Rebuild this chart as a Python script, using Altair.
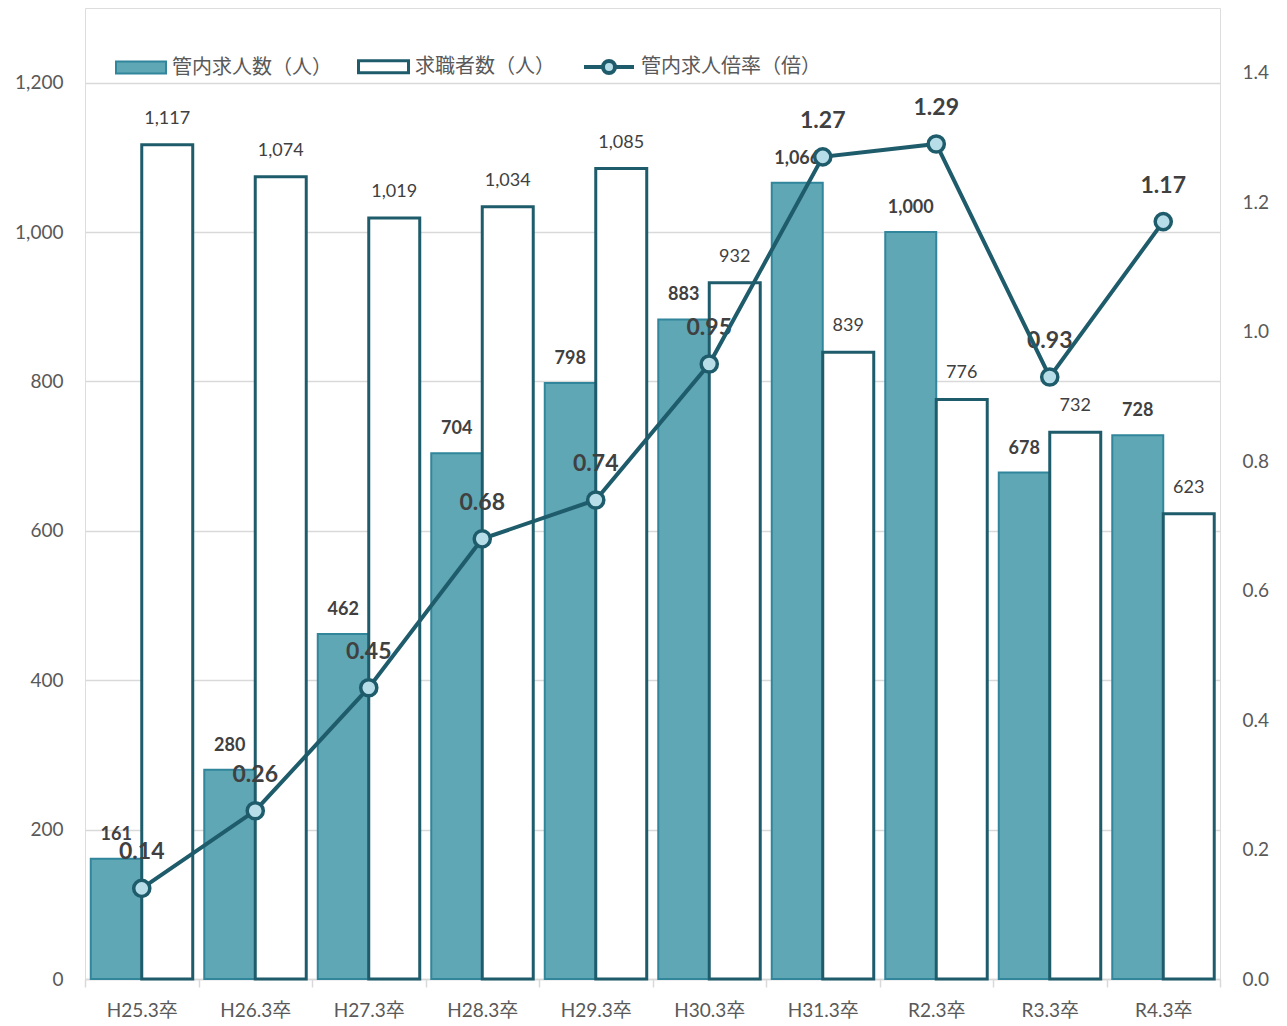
import altair as alt
import pandas as pd

categories = ["H25.3卒", "H26.3卒", "H27.3卒", "H28.3卒", "H29.3卒",
              "H30.3卒", "H31.3卒", "R2.3卒", "R3.3卒", "R4.3卒"]
job_openings = [161, 280, 462, 704, 798, 883, 1066, 1000, 678, 728]
job_seekers = [1117, 1074, 1019, 1034, 1085, 932, 839, 776, 732, 623]
ratio = [0.14, 0.26, 0.45, 0.68, 0.74, 0.95, 1.27, 1.29, 0.93, 1.17]

S1 = "管内求人数（人）"
S2 = "求職者数（人）"
S3 = "管内求人倍率（倍）"

FONT = "Lato, 'Noto Sans CJK JP', sans-serif"
TEAL_FILL = "#5fa7b5"
TEAL_STROKE = "#31869b"
DARK = "#1f5c6b"
TXT = "#404040"
AX = "#595959"

bars_df = pd.DataFrame(
    [{"cat": c, "series": S1, "value": v} for c, v in zip(categories, job_openings)]
    + [{"cat": c, "series": S2, "value": v} for c, v in zip(categories, job_seekers)]
)
line_df = pd.DataFrame({"cat": categories, "ratio": ratio, "s": [S3] * len(categories)})

x_enc = alt.X(
    "cat:N", sort=categories, title=None,
    scale=alt.Scale(paddingInner=0, paddingOuter=0),
    axis=alt.Axis(labelAngle=0, labelFontSize=19, labelColor=AX, labelFont=FONT,
                  domainColor="#d9d9d9", domainWidth=1.5, tickColor="#d9d9d9",
                  tickWidth=1.5, tickSize=8, tickBand="extent", labelPadding=14),
)
xoff = alt.XOffset("series:N", scale=alt.Scale(domain=[S1, S2], paddingInner=0, paddingOuter=0.113))
y_left = alt.Y(
    "value:Q", title=None,
    scale=alt.Scale(domain=[0, 1300], nice=False),
    axis=alt.Axis(values=[0, 200, 400, 600, 800, 1000, 1200], format=",.0f",
                  orient="left", ticks=False, domain=False, grid=True,
                  gridColor="#d9d9d9", gridWidth=1.5, labelPadding=22,
                  labelFontSize=19, labelColor=AX, labelFont=FONT),
)
y_right = alt.Y(
    "ratio:Q", title=None,
    scale=alt.Scale(domain=[0, 1.5], nice=False),
    axis=alt.Axis(values=[0, 0.2, 0.4, 0.6, 0.8, 1.0, 1.2, 1.4], format=".1f",
                  orient="right", ticks=False, domain=False, grid=False,
                  labelPadding=22, labelFontSize=19, labelColor=AX, labelFont=FONT),
)

bar_legend = alt.Legend(
    title=None, orient="none", legendX=30, legendY=32, direction="horizontal",
    symbolType="M-1,-0.24H1V0.24H-1Z", symbolSize=2500, symbolStrokeWidth=3,
    labelFontSize=20, labelColor=AX, labelFont=FONT, labelOffset=5,
    columnPadding=20, labelLimit=400,
)

bars = alt.Chart(bars_df).mark_bar().encode(
    x=x_enc, xOffset=xoff, y=y_left,
    fill=alt.Fill("series:N", scale=alt.Scale(domain=[S1, S2], range=[TEAL_FILL, "#ffffff"]),
                  legend=bar_legend),
    stroke=alt.Stroke("series:N", scale=alt.Scale(domain=[S1, S2], range=[TEAL_STROKE, DARK]),
                      legend=bar_legend),
    strokeWidth=alt.StrokeWidth("series:N", scale=alt.Scale(domain=[S1, S2], range=[2, 3]),
                                legend=None),
)

t1 = alt.Chart(bars_df).transform_filter(alt.datum.series == S1).mark_text(
    fontSize=18, fontWeight="bold", color=TXT, font=FONT, baseline="middle", dy=-24
).encode(x=x_enc, xOffset=xoff, y=y_left, text=alt.Text("value:Q", format=",.0f"))

t2 = alt.Chart(bars_df).transform_filter(alt.datum.series == S2).mark_text(
    fontSize=18, color=TXT, font=FONT, baseline="middle", dy=-26
).encode(x=x_enc, xOffset=xoff, y=y_left, text=alt.Text("value:Q", format=",.0f"))

left = alt.layer(bars, t1, t2)

line_text = alt.Chart(line_df).mark_text(
    fontSize=23, fontWeight="bold", color=TXT, font=FONT, baseline="middle", dy=-36
).encode(x=x_enc, y=y_right, text=alt.Text("ratio:Q", format=".2f"))

line = alt.Chart(line_df).mark_line(strokeWidth=4).encode(
    x=x_enc, y=y_right,
    color=alt.Color("s:N", scale=alt.Scale(domain=[S3], range=[DARK]),
                    legend=alt.Legend(
                        title=None, orient="none", legendX=497, legendY=32,
                        direction="horizontal",
                        symbolType="M-1,0H-0.24M0.24,0H1M-0.24,0A0.24,0.24 0 1,1 0.24,0A0.24,0.24 0 1,1 -0.24,0Z",
                        symbolSize=2500, symbolStrokeWidth=4, symbolFillColor="#b7dee8",
                        labelFontSize=20, labelColor=AX, labelFont=FONT, labelOffset=5,
                        labelLimit=400)),
)

points = alt.Chart(line_df).mark_point(
    shape="circle", filled=True, size=260, fill="#b7dee8", stroke=DARK,
    strokeWidth=3.5, opacity=1
).encode(x=x_enc, y=y_right)

right = alt.layer(line_text, line, points)

chart = alt.layer(left, right).resolve_scale(
    y="independent"
).properties(
    width=1135, height=971,
    padding={"left": 6, "top": 0, "right": 5, "bottom": 0},
).configure_view(
    stroke="#5b8fd6", strokeWidth=2
).configure(background="white")

chart.save("out.html", embed_options={"renderer": "svg", "actions": False})
